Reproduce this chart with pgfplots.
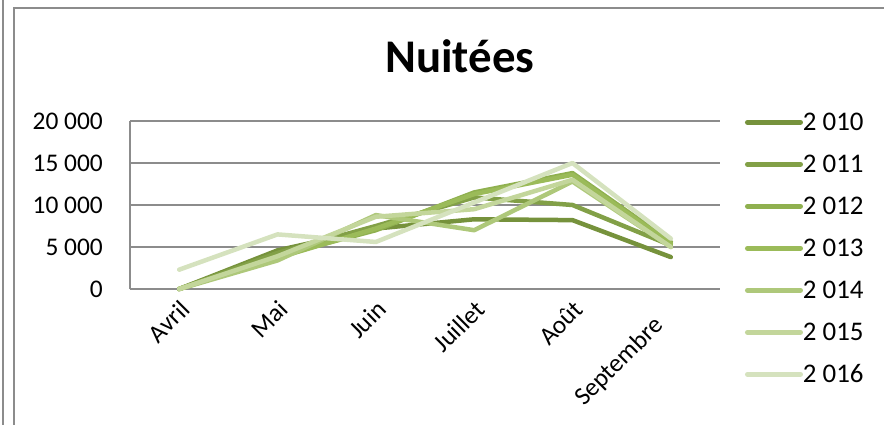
\documentclass[border=0pt]{standalone}
\usepackage{pgfplots}
\pgfplotsset{compat=1.18}
\usepackage{fontspec}
\setmainfont{Carlito}
\definecolor{c10}{HTML}{76923C}
\definecolor{c11}{HTML}{82A047}
\definecolor{c12}{HTML}{8FB04F}
\definecolor{c13}{HTML}{9BBB59}
\definecolor{c14}{HTML}{AEC87A}
\definecolor{c15}{HTML}{C3D69B}
\definecolor{c16}{HTML}{D5E2BE}
\definecolor{gridg}{HTML}{8C8C8C}
\begin{document}
\begin{tikzpicture}
\path[use as bounding box] (0bp,0bp) rectangle (884bp,-425bp);
\draw[gridg, line width=1.5bp] (3bp,0bp) -- (3bp,-425bp);
\draw[gridg, line width=1.5bp] (14bp,-425bp) -- (14bp,-8bp) -- (884bp,-8bp);
\begin{axis}[
  at={(130bp,-289bp)}, anchor=south west,
  scale only axis, width=590bp, height=168bp,
  xmin=0, xmax=6, ymin=0, ymax=20000,
  xtick={0.5,1.5,2.5,3.5,4.5,5.5},
  xticklabels={Avril,Mai,Juin,Juillet,Août,Septembre\kern24bp\null},
  ytick={0,5000,10000,15000,20000},
  yticklabels={0,5 000,10 000,15 000,20 000},
  scaled y ticks=false,
  major tick length=0pt,
  axis x line*=bottom,
  x axis line style={draw=none},
  axis y line*=left,
  y axis line style={gridg, line width=1.5bp},
  ymajorgrids, grid style={gridg, line width=1.5bp},
  tick label style={font=\fontsize{25.5}{30}\selectfont},
  yticklabel style={anchor=east, inner sep=0pt, xshift=-27bp},
  xticklabel style={xshift=6bp, yshift=-16bp, rotate=45, anchor=east, inner sep=0pt},
  title={\textbf{Nuitées}},
  title style={font=\fontsize{47}{50}\selectfont, at={(axis description cs:0.559,1.256)}, anchor=base, inner sep=0pt},
  clip=false,
  every axis plot/.append style={line width=4.5bp, line join=round, line cap=round},
  legend style={draw=none, fill=none, at={(1.042,1.119)}, anchor=north west,
    inner xsep=0pt, inner ysep=0pt, row sep=0pt, column sep=0pt,
    font=\fontsize{27}{30}\selectfont,
    nodes={inner sep=0pt, minimum height=42bp}},
  legend cell align=left,
  legend image code/.code={\draw[#1, line width=5bp, line cap=round] (2bp,0bp) -- (55bp,0bp);},
]
\addplot[c10] coordinates {(0.5,0) (1.5,4600) (2.5,7200) (3.5,8300) (4.5,8200) (5.5,3800)};
\addplot[c11] coordinates {(0.5,0) (1.5,4300) (2.5,7500) (3.5,10900) (4.5,10000) (5.5,5200)};
\addplot[c12] coordinates {(0.5,0) (1.5,3900) (2.5,7000) (3.5,11500) (4.5,13800) (5.5,5600)};
\addplot[c13] coordinates {(0.5,0) (1.5,3700) (2.5,7200) (3.5,11300) (4.5,13600) (5.5,5400)};
\addplot[c14] coordinates {(0.5,0) (1.5,3400) (2.5,8800) (3.5,7000) (4.5,12800) (5.5,5000)};
\addplot[c15] coordinates {(0.5,0) (1.5,3900) (2.5,8600) (3.5,9500) (4.5,13000) (5.5,5000)};
\addplot[c16] coordinates {(0.5,2300) (1.5,6500) (2.5,5600) (3.5,10300) (4.5,15000) (5.5,6000)};
\legend{2 010,2 011,2 012,2 013,2 014,2 015,2 016}
\end{axis}
\end{tikzpicture}
\end{document}
